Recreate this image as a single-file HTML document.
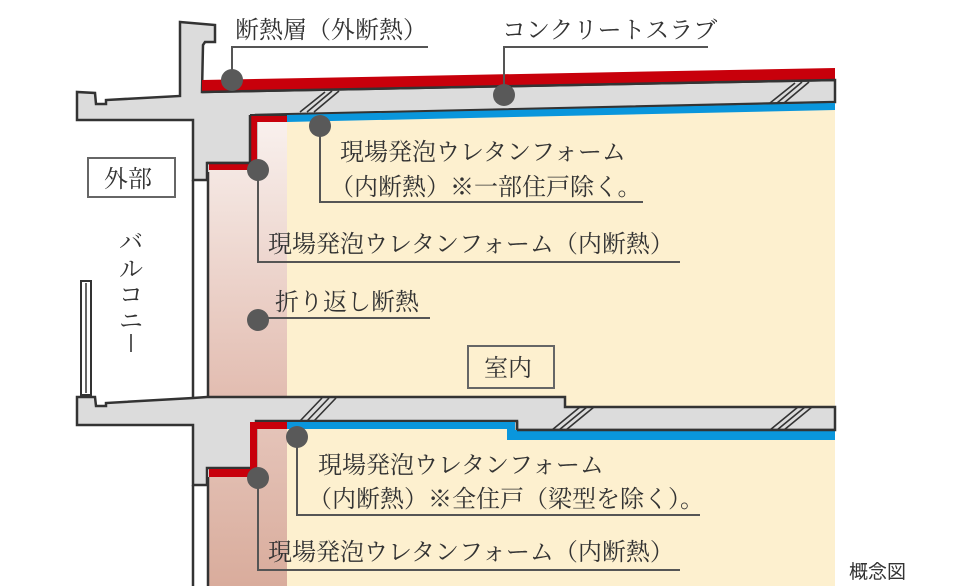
<!DOCTYPE html>
<html><head><meta charset="utf-8"><style>
html,body{margin:0;padding:0;background:#fff}
svg{display:block}
text{font-family:"Noto Serif CJK JP","Noto Serif CJK SC",serif;fill:#333;font-size:24px}
</style></head><body>
<svg width="980" height="586" viewBox="0 0 980 586" xmlns="http://www.w3.org/2000/svg">
<defs>
<linearGradient id="pk1" x1="0" y1="0" x2="0" y2="1"><stop offset="0" stop-color="#f9f1ee"/><stop offset="1" stop-color="#e2bcb0"/></linearGradient>
<linearGradient id="pk2" x1="0" y1="0" x2="0" y2="1"><stop offset="0" stop-color="#e5c4b9"/><stop offset="1" stop-color="#d9ac9c"/></linearGradient>
</defs>
<rect x="287" y="108" width="548" height="300" fill="#fdf0cf"/>
<rect x="287" y="428" width="548" height="158" fill="#fdf0cf"/>
<rect x="209" y="118" width="78" height="282" fill="url(#pk1)"/>
<rect x="209" y="425" width="78" height="161" fill="url(#pk2)"/>

<path d="M180,22 L215,25 L215,42 L205,42 L203,45 L202,92 L835,80 L835,102 L256,115 L256,163 L207,163 L207,180 L193,180 L193,120 L77,120 L77,92 L95,93 L96,104 L106,104 L106,100 L180,96 Z" fill="#dcdcdc" stroke="#333" stroke-width="2.5"/>
<polygon points="202,80 835,68 835,79 202,92" fill="#c8000b"/>
<line x1="202" y1="92" x2="835" y2="80" stroke="#333" stroke-width="2.5"/>
<polygon points="287,115 835,103 835,110 287,122" fill="#0a96dc"/>
<path d="M250,116 L287,116 L287,122 L257,122 L257,170 L209,170 L209,163 L250,163 Z" fill="#c8000b"/>
<line x1="250" y1="115" x2="287" y2="115" stroke="#333" stroke-width="2"/>
<line x1="250" y1="115" x2="250" y2="163" stroke="#333" stroke-width="2.5"/>
<line x1="207" y1="163" x2="250" y2="163" stroke="#333" stroke-width="2.5"/>
<line x1="193" y1="180" x2="193" y2="398" stroke="#333" stroke-width="2.5"/>
<line x1="208" y1="172" x2="208" y2="398" stroke="#333" stroke-width="2.5"/>

<path d="M77,397 L95,397 L96,406 L106,406 L106,403 L193,398 L207,397 L565,397 L565,407 L835,407 L835,430 L517,430 L517,421 L256,421 L256,468 L207,468 L207,485 L193,485 L193,425 L77,425 Z" fill="#dcdcdc" stroke="#333" stroke-width="2.5"/>
<path d="M287,422 L515,422 L515,430 L835,430 L835,440 L507,440 L507,429 L287,429 Z" fill="#0a96dc"/>
<line x1="287" y1="421" x2="517" y2="421" stroke="#333" stroke-width="2"/>
<line x1="517" y1="421" x2="517" y2="430" stroke="#333" stroke-width="2.5"/>
<line x1="517" y1="430" x2="835" y2="430" stroke="#333" stroke-width="2.5"/>
<path d="M250,422 L287,422 L287,429 L257,429 L257,477 L209,477 L209,469 L250,469 Z" fill="#c8000b"/>
<line x1="193" y1="485" x2="193" y2="586" stroke="#333" stroke-width="2.5"/>
<line x1="208" y1="477" x2="208" y2="586" stroke="#333" stroke-width="2.5"/>

<g stroke="#333" stroke-width="1.6">
<line x1="300" y1="112" x2="325" y2="92"/><line x1="307" y1="112" x2="332" y2="91"/><line x1="314" y1="112" x2="339" y2="91"/>
<line x1="770" y1="103" x2="795" y2="83"/><line x1="777" y1="103" x2="802" y2="82"/><line x1="784" y1="103" x2="809" y2="82"/>
<line x1="552" y1="430" x2="580" y2="407"/><line x1="559" y1="430" x2="587" y2="407"/><line x1="566" y1="430" x2="594" y2="407"/>
<line x1="770" y1="430" x2="798" y2="407"/><line x1="777" y1="430" x2="805" y2="407"/><line x1="784" y1="430" x2="812" y2="407"/>
<line x1="300" y1="421" x2="322" y2="398"/><line x1="307" y1="421" x2="329" y2="398"/><line x1="314" y1="421" x2="336" y2="398"/>
</g>

<rect x="81" y="281" width="10" height="114" fill="#fff" stroke="#333" stroke-width="2"/>
<line x1="86" y1="283" x2="86" y2="393" stroke="#333" stroke-width="1.5"/>

<g stroke="#555" stroke-width="2" fill="none">
<polyline points="232,80 232,47 428,47"/>
<polyline points="504,95 504,47 708,47"/>
<polyline points="320,126 320,202 643,202"/>
<polyline points="258,170 258,262 680,262"/>
<polyline points="258,320 258,318 430,318"/>
<polyline points="297,437 297,515 700,515"/>
<polyline points="258,478 258,570 680,570"/>
</g>
<g fill="#595959">
<circle cx="232" cy="80" r="11"/><circle cx="504" cy="95" r="11"/><circle cx="320" cy="126" r="11"/>
<circle cx="258" cy="170" r="11"/><circle cx="258" cy="320" r="11"/><circle cx="297" cy="437" r="11"/><circle cx="258" cy="478" r="11"/>
</g>

<rect x="88" y="158" width="87" height="39" fill="#fff" stroke="#666" stroke-width="2"/>
<text x="104" y="187">外部</text>
<rect x="468" y="346" width="86" height="42" fill="#fdf0cf" stroke="#666" stroke-width="2"/>
<text x="484" y="376">室内</text>

<text x="235" y="38">断熱層（外断熱）</text>
<text x="502" y="38">コンクリートスラブ</text>
<text x="340" y="160">現場発泡ウレタンフォーム</text>
<text x="330" y="195">（内断熱）※一部住戸除く。</text>
<text x="268" y="252">現場発泡ウレタンフォーム（内断熱）</text>
<text x="275" y="310">折り返し断熱</text>
<text x="318" y="473">現場発泡ウレタンフォーム</text>
<text x="308" y="507">（内断熱）※全住戸（梁型を除く）。</text>
<text x="268" y="560">現場発泡ウレタンフォーム（内断熱）</text>
<text x="849" y="578" style="font-size:19px;font-family:'Noto Sans CJK JP',sans-serif">概念図</text>
<g text-anchor="middle">
<text x="131" y="250">バ</text>
<text x="131" y="277">ル</text>
<text x="131" y="303">コ</text>
<text x="131" y="329">ニ</text>
</g>
<line x1="131" y1="334" x2="131" y2="352" stroke="#333" stroke-width="1.6"/>
</svg>
</body></html>
